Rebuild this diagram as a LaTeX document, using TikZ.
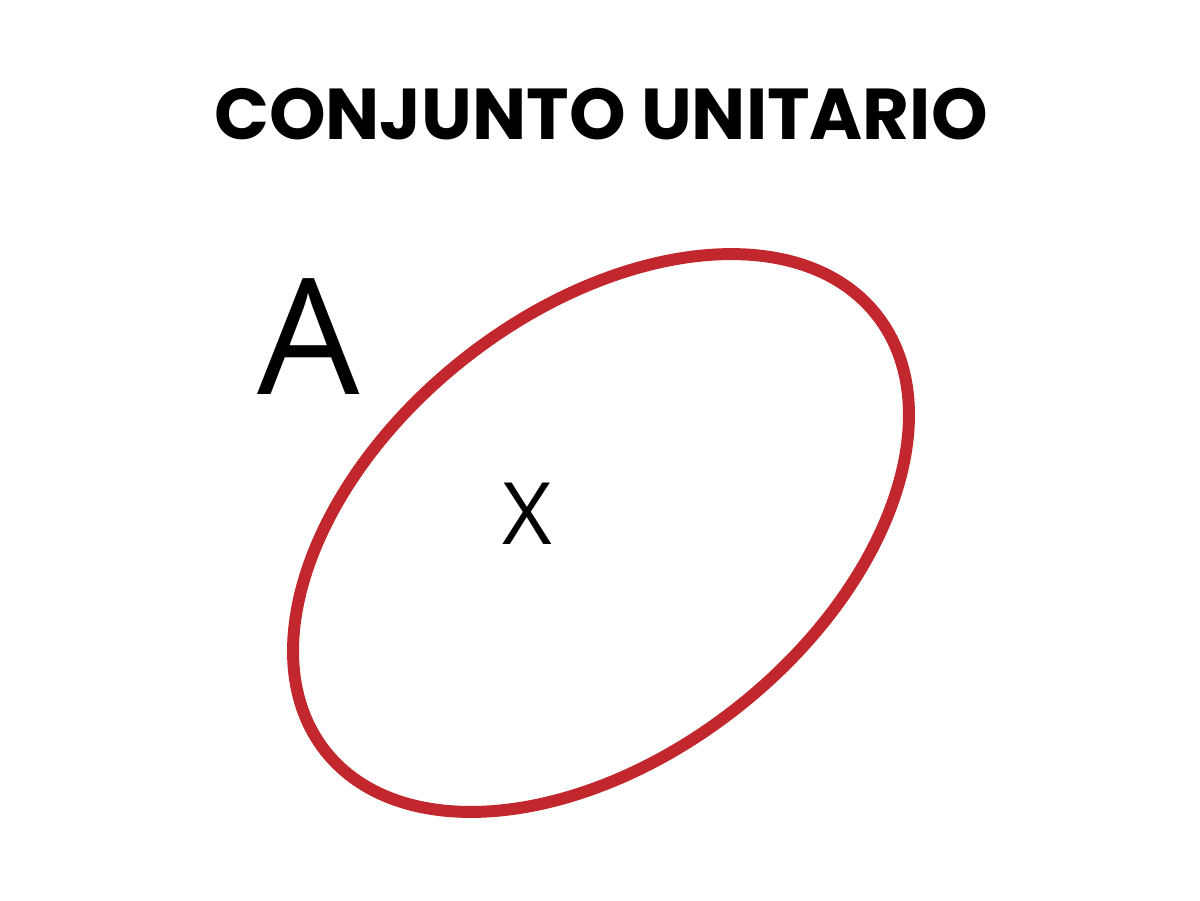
\documentclass[tikz,border=0pt]{standalone}
\usepackage{fontspec}
\setmainfont{Open Sans}
\newfontfamily\titlefont{Poppins}
\definecolor{setred}{RGB}{193,39,45}
\begin{document}
\begin{tikzpicture}[line join=round, line cap=round,
	setline/.style={draw=setred, line width=6.8pt},
	lbl/.style={inner sep=0pt, anchor=center}]
	\useasboundingbox (0,0) rectangle (24,18);
		\coordinate (O) at (12.02,7.34);
		\coordinate (T) at (12.02,15.72);
		\coordinate (A) at (6.18,11.26);
		\coordinate (X) at (10.54,7.72);
	\draw[setline, rotate around={38.4:(O)}] (O) ellipse (7.03 and 4.43);
	\node[lbl] (title) at (T) {\titlefont\bfseries\fontsize{41}{48}\selectfont CONJUNTO UNITARIO};
	\node[lbl] (setA) at (A) {\fontsize{92}{100}\selectfont A};
	\node[lbl] (elemX) at (X) {\fontsize{49}{56}\selectfont X};
\end{tikzpicture}
\end{document}
